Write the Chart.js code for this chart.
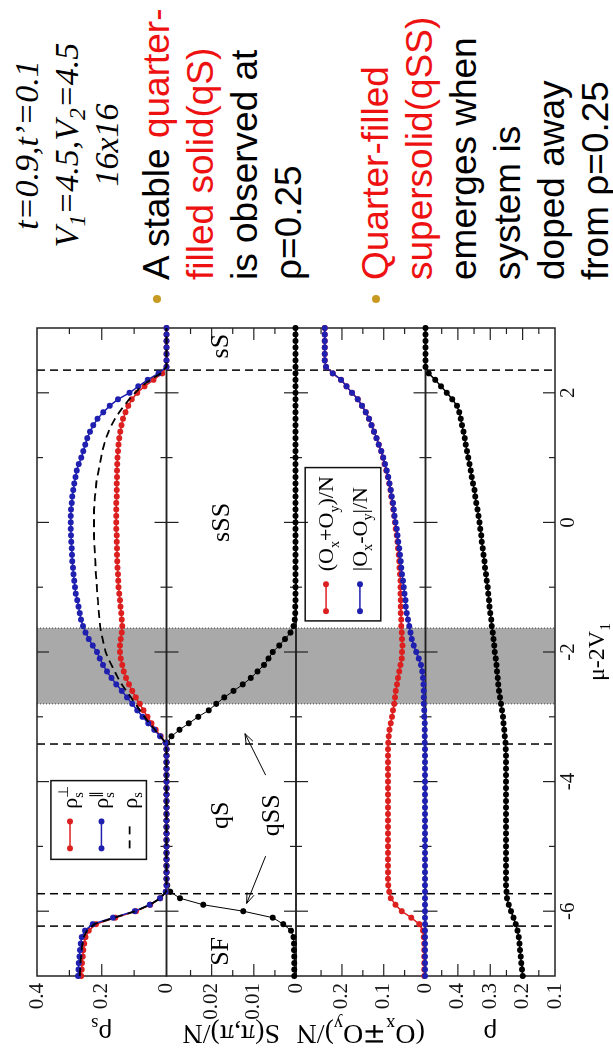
<!DOCTYPE html>
<html>
<head>
<meta charset="utf-8">
<script src="https://cdn.jsdelivr.net/npm/chart.js@4.4.1/dist/chart.umd.min.js"></script>
<style>
html, body { margin: 0; padding: 0; overflow: hidden; background: #fff; }
#slide { position: absolute; left: 0; top: 0; width: 1063px; height: 613px; background: #fff;
  transform-origin: 0 0; transform: translateY(1063px) rotate(-90deg); }
#plot { position: absolute; left: 0; top: 0; }
#params { position: absolute; left: 768px; top: 7px; width: 300px; text-align: center; color: #000;
  font: italic 34px/40px 'Liberation Serif', 'Times New Roman', serif; }
sub { font-size: 0.7em; line-height: 0; vertical-align: -0.3em; }
.bul { position: absolute; left: 783px; white-space: nowrap; color: #000;
  font: 37px/44px 'Liberation Sans', Arial, sans-serif; }
.r { color: #ee1111; }
.dot { position: absolute; left: 760px; width: 8px; height: 8px; border-radius: 50%; background: #c99a22; }
</style>
</head>
<body>
<div id="slide">
  <canvas id="plot" width="750" height="613"></canvas>
  <div id="params">t=0.9,t’=0.1<br>V<sub>1</sub>=4.5,V<sub>2</sub>=4.5<br>16x16</div>
  <div class="dot" style="top:153px"></div>
  <div class="bul" style="top:135px">A stable <span class="r">quarter-</span><br><span class="r">filled solid(qS)</span><br>is observed at<br>ρ=0.25</div>
  <div class="dot" style="top:372px"></div>
  <div class="bul" style="top:354px"><span class="r">Quarter-filled<br>supersolid(qSS)</span><br>emerges when<br>system is<br>doped away<br>from ρ=0.25</div>
</div>
<script>
// chemical potential grid, μ-2V1
const mu = [
  -7.0,-6.9,-6.8,-6.7,-6.6,-6.5,-6.4,-6.3,-6.2,-6.1,
  -6.0,-5.9,-5.8,-5.7,-5.6,-5.5,-5.4,-5.3,-5.2,-5.1,
  -5.0,-4.9,-4.8,-4.7,-4.6,-4.5,-4.4,-4.3,-4.2,-4.1,
  -4.0,-3.9,-3.8,-3.7,-3.6,-3.5,-3.4,-3.3,-3.2,-3.1,
  -3.0,-2.9,-2.8,-2.7,-2.6,-2.5,-2.4,-2.3,-2.2,-2.1,
  -2.0,-1.9,-1.8,-1.7,-1.6,-1.5,-1.4,-1.3,-1.2,-1.1,
  -1.0,-0.9,-0.8,-0.7,-0.6,-0.5,-0.4,-0.3,-0.2,-0.1,
  0.0,0.1,0.2,0.3,0.4,0.5,0.6,0.7,0.8,0.9,
  1.0,1.1,1.2,1.3,1.4,1.5,1.6,1.7,1.8,1.9,
  2.0,2.1,2.2,2.3,2.4,2.5,2.6,2.7,2.8,2.9,
  3.0];

// superfluid density, perpendicular (red)
const rhoSPerp = [
  0.263,0.262,0.261,0.259,0.257,0.254,0.250,0.240,0.218,0.158,
  0.094,0.050,0.019,0.002,0,0,0,0,0,0,
  0,0,0,0,0,0,0,0,0,0,
  0,0,0,0,0,0,0.003,0.018,0.033,0.046,
  0.059,0.071,0.083,0.095,0.106,0.116,0.125,0.132,0.137,0.141,
  0.144,0.144,0.141,0.138,0.137,0.138,0.140,0.142,0.144,0.146,
  0.148,0.149,0.150,0.151,0.152,0.153,0.153,0.154,0.154,0.155,
  0.155,0.155,0.155,0.155,0.154,0.154,0.154,0.153,0.153,0.152,
  0.151,0.150,0.148,0.146,0.143,0.139,0.134,0.127,0.118,0.107,
  0.090,0.068,0.040,0.013,0,0,0,0,0,0,
  0];

// superfluid density, parallel (blue)
const rhoSPar = [
  0.273,0.272,0.271,0.269,0.267,0.265,0.262,0.252,0.228,0.165,
  0.098,0.052,0.020,0.002,0,0,0,0,0,0,
  0,0,0,0,0,0,0,0,0,0,
  0,0,0,0,0,0,0.003,0.020,0.038,0.056,
  0.074,0.090,0.106,0.122,0.138,0.155,0.170,0.184,0.196,0.206,
  0.215,0.228,0.240,0.250,0.258,0.264,0.268,0.272,0.276,0.280,
  0.283,0.285,0.287,0.289,0.291,0.292,0.293,0.294,0.295,0.296,
  0.296,0.296,0.295,0.293,0.291,0.288,0.285,0.281,0.277,0.271,
  0.263,0.257,0.251,0.245,0.236,0.226,0.213,0.195,0.175,0.150,
  0.114,0.087,0.058,0.025,0,0,0,0,0,0,
  0];

// superfluid density, average (dashed)
const rhoSAvg = [
  0.268,0.267,0.266,0.264,0.262,0.260,0.256,0.246,0.223,0.161,
  0.096,0.051,0.019,0.002,0,0,0,0,0,0,
  0,0,0,0,0,0,0,0,0,0,
  0,0,0,0,0,0,0.003,0.019,0.036,0.052,
  0.068,0.082,0.096,0.110,0.124,0.138,0.150,0.160,0.170,0.180,
  0.188,0.193,0.197,0.202,0.205,0.207,0.209,0.211,0.212,0.214,
  0.215,0.216,0.218,0.219,0.220,0.221,0.222,0.223,0.224,0.224,
  0.224,0.224,0.224,0.222,0.221,0.219,0.217,0.214,0.210,0.206,
  0.202,0.198,0.193,0.187,0.179,0.170,0.159,0.146,0.131,0.115,
  0.097,0.077,0.050,0.018,0,0,0,0,0,0,
  0];

// structure factor S(π,π)/N
const sPiPi = [
  0.0004,0.0004,0.0004,0.0004,0.0005,0.0005,0.0006,0.0012,0.0030,0.0055,
  0.0125,0.0220,0.0275,0.0298,0.0305,0.0307,0.0307,0.0307,0.0307,0.0307,
  0.0307,0.0307,0.0307,0.0307,0.0307,0.0307,0.0307,0.0307,0.0307,0.0307,
  0.0307,0.0307,0.0307,0.0307,0.0307,0.0307,0.0305,0.0295,0.0276,0.0254,
  0.0232,0.0207,0.0189,0.0170,0.0148,0.0126,0.0107,0.0091,0.0076,0.0065,
  0.0055,0.0040,0.0026,0.0013,0.0006,0.0003,0.0002,0.0002,0.0001,0.0001,
  0.0001,0.0001,0.0001,0.0001,0.0001,0.0001,0.0001,0.0001,0.0001,0.0001,
  0.0001,0.0001,0.0001,0.0001,0.0001,0.0001,0.0001,0.0001,0.0001,0.0001,
  0.0001,0.0001,0.0001,0.0001,0.0001,0.0001,0.0001,0.0001,0.0001,0.0001,
  0.0001,0.0001,0.0001,0.0001,0.0001,0.0001,0.0001,0.0001,0.0001,0.0001,
  0.0001];

// bond order (Ox+Oy)/N (red)
const oSum = [
  0.003,0.003,0.003,0.003,0.003,0.003,0.004,0.006,0.015,0.034,
  0.057,0.072,0.083,0.087,0.089,0.090,0.090,0.090,0.090,0.090,
  0.090,0.090,0.090,0.090,0.090,0.090,0.090,0.090,0.090,0.090,
  0.090,0.090,0.090,0.090,0.090,0.090,0.089,0.088,0.086,0.083,
  0.080,0.078,0.075,0.073,0.071,0.068,0.066,0.063,0.060,0.057,
  0.056,0.055,0.056,0.057,0.058,0.058,0.059,0.059,0.059,0.060,
  0.060,0.060,0.061,0.062,0.063,0.064,0.066,0.067,0.069,0.071,
  0.073,0.075,0.077,0.079,0.082,0.084,0.087,0.090,0.094,0.098,
  0.102,0.106,0.112,0.117,0.123,0.129,0.135,0.143,0.152,0.162,
  0.176,0.189,0.202,0.222,0.238,0.241,0.241,0.241,0.241,0.241,
  0.241];

// bond order |Ox-Oy|/N (blue)
const oDiff = [
  0.001,0.001,0.001,0.001,0.001,0.001,0.001,0.001,0.001,0.001,
  0.001,0.001,0.001,0.001,0.001,0.001,0.001,0.001,0.001,0.001,
  0.001,0.001,0.001,0.001,0.001,0.001,0.001,0.001,0.001,0.001,
  0.001,0.001,0.001,0.001,0.001,0.001,0.002,0.002,0.002,0.002,
  0.003,0.003,0.004,0.004,0.004,0.005,0.006,0.008,0.011,0.016,
  0.022,0.028,0.033,0.036,0.039,0.042,0.045,0.047,0.048,0.050,
  0.052,0.054,0.056,0.058,0.059,0.061,0.063,0.065,0.067,0.069,
  0.072,0.074,0.076,0.078,0.081,0.083,0.086,0.089,0.093,0.097,
  0.101,0.106,0.112,0.117,0.123,0.129,0.135,0.143,0.152,0.162,
  0.176,0.189,0.202,0.222,0.238,0.241,0.241,0.241,0.241,0.241,
  0.241];

// density ρ
const rho = [
  0.200,0.202,0.204,0.206,0.208,0.210,0.212,0.216,0.221,0.228,
  0.236,0.243,0.248,0.250,0.251,0.251,0.251,0.251,0.251,0.251,
  0.251,0.251,0.251,0.251,0.251,0.251,0.251,0.251,0.251,0.251,
  0.251,0.251,0.251,0.251,0.251,0.252,0.253,0.255,0.257,0.259,
  0.261,0.264,0.267,0.270,0.273,0.275,0.277,0.279,0.281,0.283,
  0.286,0.288,0.290,0.292,0.295,0.297,0.300,0.302,0.304,0.306,
  0.308,0.311,0.313,0.316,0.318,0.321,0.323,0.326,0.328,0.331,
  0.333,0.336,0.339,0.343,0.346,0.349,0.353,0.357,0.360,0.364,
  0.368,0.372,0.376,0.379,0.383,0.387,0.391,0.396,0.403,0.417,
  0.434,0.452,0.470,0.490,0.500,0.500,0.500,0.500,0.500,0.500,
  0.500];

// tick values
const muTicks = [-6, -4, -2, 0, 2];
const muMinor = [-5, -3, -1, 1];
const rhoSTicks = [0, 0.2, 0.4];
const rhoSMinor = [0.1, 0.3];
const sTicks = [0, 0.01, 0.02];
const sMinor = [0.005, 0.015, 0.025];
const oTicks = [0, 0.1, 0.2];
const oMinor = [0.05, 0.15, 0.25];
const rhoTicks = [0.1, 0.2, 0.3, 0.4];
const rhoMinor = [0.15, 0.25, 0.35, 0.45];

// phase boundaries and the shaded region
const phaseEdges = [-6.23, -5.73, -3.42, 2.35];
const bandRange = [-2.8, -1.63];

const RED = '#dc1f1f', BLUE = '#1f1fb0';
const SERIF = "'Liberation Serif', 'Times New Roman', serif";
Chart.defaults.font.family = SERIF;

const pts = ys => mu.map((m, i) => ({ x: m, y: ys[i] }));

function series(label, ys, axis, color, order, extra) {
  return Object.assign({
    label, data: pts(ys), yAxisID: axis, order,
    borderColor: color, backgroundColor: color, borderWidth: 1.5,
    pointRadius: 3, pointHoverRadius: 3, pointBorderWidth: 0, tension: 0, clip: 4
  }, extra || {});
}

function yAxis(min, max, ticks, weight) {
  return {
    type: 'linear', position: 'left', stack: 'panels', stackWeight: 1, weight, min, max,
    afterBuildTicks: s => { s.ticks = ticks.map(v => ({ value: v })); },
    afterFit: s => { s.width = 87; },
    grid: { display: false, drawTicks: false },
    border: { display: false },
    ticks: { padding: 7, autoSkip: false, color: '#111', font: { family: SERIF, size: 21 }, callback: v => String(v) }
  };
}

function font(size) { return size + 'px ' + SERIF; }

// text with sub/superscripts: parts are [text, kind, supText]
function richWidth(ctx, parts, size) {
  let w = 0;
  for (const [t, kind, t2] of parts) {
    ctx.font = font(kind ? size * 0.65 : size);
    w += Math.max(ctx.measureText(t).width, t2 ? ctx.measureText(t2).width : 0);
  }
  return w;
}
function drawRich(ctx, parts, x, y, size, align) {
  let cx = align === 'center' ? x - richWidth(ctx, parts, size) / 2 : x;
  ctx.textAlign = 'left';
  ctx.textBaseline = 'alphabetic';
  for (const [t, kind, t2] of parts) {
    ctx.font = font(kind ? size * 0.65 : size);
    const dy = kind === 'sup' ? -size * 0.4 : kind ? size * 0.25 : 0;
    ctx.fillText(t, cx, y + dy);
    let w = ctx.measureText(t).width;
    if (t2) { ctx.fillText(t2, cx, y - size * 0.4); w = Math.max(w, ctx.measureText(t2).width); }
    cx += w;
  }
}

function vline(ctx, x, y0, y1) { ctx.beginPath(); ctx.moveTo(x, y0); ctx.lineTo(x, y1); ctx.stroke(); }
function hline(ctx, y, x0, x1) { ctx.beginPath(); ctx.moveTo(x0, y); ctx.lineTo(x1, y); ctx.stroke(); }
function arrow(ctx, x0, y0, x1, y1) {
  const ang = Math.atan2(y1 - y0, x1 - x0), L = 11, sp = 0.35;
  ctx.beginPath();
  ctx.moveTo(x0, y0); ctx.lineTo(x1, y1);
  ctx.moveTo(x1 - L * Math.cos(ang - sp), y1 - L * Math.sin(ang - sp));
  ctx.lineTo(x1, y1);
  ctx.lineTo(x1 - L * Math.cos(ang + sp), y1 - L * Math.sin(ang + sp));
  ctx.stroke();
}

const panelTicks = { yP: [rhoSTicks, rhoSMinor], yS: [sTicks, sMinor], yO: [oTicks, oMinor], yR: [rhoTicks, rhoMinor] };

// annotations (in axis units)
const phaseText = [['SF', -6.62, 0.0178], ['qS', -4.52, 0.0178], ['sSS', 0.0, 0.0175], ['sS', 2.72, 0.0178], ['qSS', -4.52, 0.0056]];
const qssArrows = [[-3.9, 0.0072, -3.26, 0.0121], [-5.15, 0.0072, -5.88, 0.0117]];
const legends = [
  { axis: 'yP', box: [-5.2, -3.985, 0.357, 0.062], sym: [-5.03, -4.615], textX: -4.42, rows: [
    { y: 0.298, color: RED, parts: [['ρ'], ['s', 'subsup', '⊥']] },
    { y: 0.201, color: BLUE, parts: [['ρ'], ['s', 'subsup', '∥']] },
    { y: 0.114, color: '#000', dash: true, parts: [['ρ'], ['s', 'sub']] }] },
  { axis: 'yO', box: [-1.52, 0.846, 0.288, 0.107], sym: [-1.37, -0.954], textX: -0.754, rows: [
    { y: 0.238, color: RED, parts: [['(O'], ['x', 'sub'], ['+O'], ['y', 'sub'], [')/N']] },
    { y: 0.157, color: BLUE, parts: [['|O'], ['x', 'sub'], ['-O'], ['y', 'sub'], ['|/N']] }] }
];
const yTitles = [
  ['yP', [['ρ'], ['s', 'sub']]],
  ['yS', [['S(π,π)/N']]],
  ['yO', [['(O'], ['x', 'sub'], ['∓O'], ['y', 'sub'], [')/N']]],
  ['yR', [['ρ']]]
];

const decor = {
  id: 'decor',
  beforeDatasetsDraw(chart) {
    const { ctx, chartArea: a, scales } = chart;
    const sx = scales.x;
    ctx.save();
    const b0 = sx.getPixelForValue(bandRange[0]), b1 = sx.getPixelForValue(bandRange[1]);
    ctx.fillStyle = '#a9a9a9';
    ctx.fillRect(b0, a.top, b1 - b0, a.bottom - a.top);
    ctx.strokeStyle = '#444'; ctx.lineWidth = 1; ctx.setLineDash([1, 2]);
    vline(ctx, b0, a.top, a.bottom); vline(ctx, b1, a.top, a.bottom);
    ctx.strokeStyle = '#000'; ctx.lineWidth = 1.5; ctx.setLineDash([8, 5]);
    phaseEdges.forEach(v => vline(ctx, sx.getPixelForValue(v), a.top, a.bottom));
    ctx.setLineDash([]);
    ctx.strokeStyle = '#222';
    for (const id of Object.keys(panelTicks)) {
      const s = scales[id];
      ctx.lineWidth = 1.5;
      ctx.strokeRect(a.left, s.top, a.right - a.left, s.bottom - s.top);
      ctx.lineWidth = 1.2;
      for (const [list, len] of [[muTicks, 12], [muMinor, 6]]) {
        for (const v of list) {
          const px = sx.getPixelForValue(v);
          vline(ctx, px, s.top, s.top + len); vline(ctx, px, s.bottom, s.bottom - len);
        }
      }
      const [maj, min] = panelTicks[id];
      for (const [list, len] of [[maj, 12], [min, 6]]) {
        for (const v of list) {
          if (v <= s.min || v >= s.max) continue;
          const py = s.getPixelForValue(v);
          hline(ctx, py, a.left, a.left + len); hline(ctx, py, a.right, a.right - len);
        }
      }
    }
    ctx.restore();
  },
  afterDraw(chart) {
    const { ctx, chartArea: a, scales } = chart;
    const sx = scales.x, sS = scales.yS;
    ctx.save();
    ctx.fillStyle = '#000'; ctx.strokeStyle = '#000';
    // phase labels
    ctx.font = font(26); ctx.textAlign = 'center'; ctx.textBaseline = 'middle';
    for (const [t, x, y] of phaseText) ctx.fillText(t, sx.getPixelForValue(x), sS.getPixelForValue(y));
    ctx.lineWidth = 1;
    for (const [x0, y0, x1, y1] of qssArrows) {
      arrow(ctx, sx.getPixelForValue(x0), sS.getPixelForValue(y0), sx.getPixelForValue(x1), sS.getPixelForValue(y1));
    }
    // legends
    for (const lg of legends) {
      const sy = scales[lg.axis];
      const x0 = sx.getPixelForValue(lg.box[0]), x1 = sx.getPixelForValue(lg.box[1]);
      const y0 = sy.getPixelForValue(lg.box[2]), y1 = sy.getPixelForValue(lg.box[3]);
      ctx.strokeStyle = '#111'; ctx.lineWidth = 1.5;
      ctx.strokeRect(x0, y0, x1 - x0, y1 - y0);
      const s0 = sx.getPixelForValue(lg.sym[0]), s1 = sx.getPixelForValue(lg.sym[1]);
      for (const r of lg.rows) {
        const py = sy.getPixelForValue(r.y);
        ctx.strokeStyle = r.color; ctx.fillStyle = r.color;
        if (r.dash) {
          ctx.lineWidth = 1.8; ctx.setLineDash([8, 6]);
          hline(ctx, py, s0, s1); ctx.setLineDash([]);
        } else {
          ctx.lineWidth = 1.5; hline(ctx, py, s0, s1);
          for (const px of [s0, s1]) { ctx.beginPath(); ctx.arc(px, py, 3, 0, Math.PI * 2); ctx.fill(); }
        }
        ctx.fillStyle = '#000';
        drawRich(ctx, r.parts, sx.getPixelForValue(lg.textX), py + 7, 22, 'left');
      }
    }
    // axis titles
    ctx.fillStyle = '#000';
    for (const [id, parts] of yTitles) {
      const s = scales[id];
      ctx.save();
      ctx.translate(28, (s.top + s.bottom) / 2);
      ctx.rotate(-Math.PI / 2);
      drawRich(ctx, parts, 0, 10, 28, 'center');
      ctx.restore();
    }
    drawRich(ctx, [['μ-2V'], ['1', 'sub']], (a.left + a.right) / 2, 604, 24, 'center');
    ctx.restore();
  }
};

new Chart(document.getElementById('plot'), {
  type: 'line',
  data: {
    datasets: [
      series('ρs', rhoSAvg, 'yP', '#000', 0, { pointRadius: 0, borderDash: [8, 5], borderWidth: 1.8 }),
      series('ρs∥', rhoSPar, 'yP', BLUE, 1),
      series('ρs⊥', rhoSPerp, 'yP', RED, 2),
      series('S(π,π)/N', sPiPi, 'yS', '#000', 3, { borderWidth: 1 }),
      series('|Ox-Oy|/N', oDiff, 'yO', BLUE, 4),
      series('(Ox+Oy)/N', oSum, 'yO', RED, 5),
      series('ρ', rho, 'yR', '#000', 6)
    ]
  },
  options: {
    responsive: false,
    animation: false,
    layout: { padding: { top: 37, right: 15, left: 0, bottom: 0 } },
    plugins: { legend: { display: false }, tooltip: { enabled: false } },
    scales: {
      x: {
        type: 'linear', position: 'bottom', min: -7, max: 3,
        afterBuildTicks: s => { s.ticks = muTicks.map(v => ({ value: v })); },
        afterFit: s => { s.height = 58; },
        grid: { display: false, drawTicks: false },
        border: { display: false },
        ticks: { padding: 1, autoSkip: false, maxRotation: 0, color: '#111', font: { family: SERIF, size: 21 }, callback: v => String(v) }
      },
      yR: yAxis(0.1, 0.5, rhoTicks, 1),
      yO: yAxis(0, 0.31, oTicks, 2),
      yS: yAxis(0, 0.0307, sTicks, 3),
      yP: yAxis(0, 0.4, rhoSTicks, 4)
    }
  },
  plugins: [decor]
});
</script>
</body>
</html>
